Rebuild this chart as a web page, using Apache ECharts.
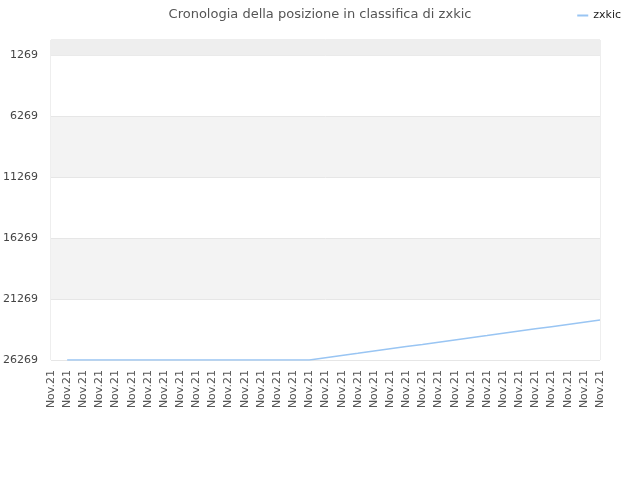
<!DOCTYPE html>
<html>
<head>
<meta charset="utf-8">
<script src="https://cdn.jsdelivr.net/npm/echarts@6/dist/echarts.min.js"></script>
<style>
  html, body { margin: 0; padding: 0; background: #fff; }
  #main { width: 640px; height: 480px; }
</style>
</head>
<body>
<div id="main"></div>
<script>
'use strict'
var categories = [];
for (var i = 0; i < 35; i++) { categories.push('Nov.21'); }

var yTicks = [1269, 6269, 11269, 16269, 21269, 26269];

var rankValues = [
    null, 26269, 26269, 26269, 26269, 26269, 26269, 26269, 26269, 26269,
    26269, 26269, 26269, 26269, 26269, 26269, 26269, 26085, 25900, 25720,
    25535, 25350, 25170, 24990, 24805, 24620, 24440, 24260, 24075, 23890,
    23710, 23530, 23350, 23170, 22990
];

var myChart = echarts.init(document.getElementById('main'));
myChart.setOption({
    animation: false,
    textStyle: { fontFamily: 'DejaVu Sans' },
    title: {
        text: 'Cronologia della posizione in classifica di zxkic',
        left: 'center',
        top: 3,
        textStyle: { fontSize: 13, fontWeight: 'normal', color: '#555', fontFamily: 'DejaVu Sans' }
    },
    legend: {
        right: 14,
        top: 5,
        itemWidth: 11,
        itemHeight: 2,
        itemGap: 6,
        icon: 'rect',
        textStyle: { fontSize: 11, color: '#222', fontFamily: 'DejaVu Sans' },
        data: ['zxkic']
    },
    grid: {
        left: 51, right: 40, top: 40, bottom: 120,
        show: true, borderColor: '#dddddd', borderWidth: 1,
        containLabel: false
    },
    xAxis: {
        type: 'category',
        boundaryGap: false,
        data: categories,
        axisLine: { show: false },
        axisTick: { show: false },
        splitLine: { show: false },
        axisLabel: {
            interval: 0,
            rotate: 90,
            fontSize: 11,
            color: '#555',
            margin: 10,
            fontFamily: 'DejaVu Sans'
        }
    },
    yAxis: {
        type: 'value',
        inverse: true,
        min: 1,
        max: 26269,
        axisLine: { show: false },
        axisTick: { show: false, customValues: yTicks },
        axisLabel: {
            customValues: yTicks,
            formatter: function (v) { return String(v); },
            fontSize: 11, color: '#444', margin: 13, fontFamily: 'DejaVu Sans'
        },
        splitLine: { show: true, customValues: yTicks, lineStyle: { color: '#e6e6e6' } },
        splitArea: {
            show: true,
            customValues: yTicks,
            areaStyle: { color: ['#ffffff', '#f3f3f3', '#ffffff', '#f3f3f3', '#ffffff'] }
        }
    },
    series: [
        {
            name: 'zxkic',
            type: 'line',
            data: rankValues,
            showSymbol: false,
            symbol: 'none',
            itemStyle: { color: '#99c5f3' },
            lineStyle: { color: '#99c5f3', width: 1.5 },
            markArea: {
                silent: true,
                itemStyle: { color: '#eeeeee' },
                data: [[{ yAxis: 1 }, { yAxis: yTicks[0] }]]
            }
        }
    ]
});
</script>
</body>
</html>
